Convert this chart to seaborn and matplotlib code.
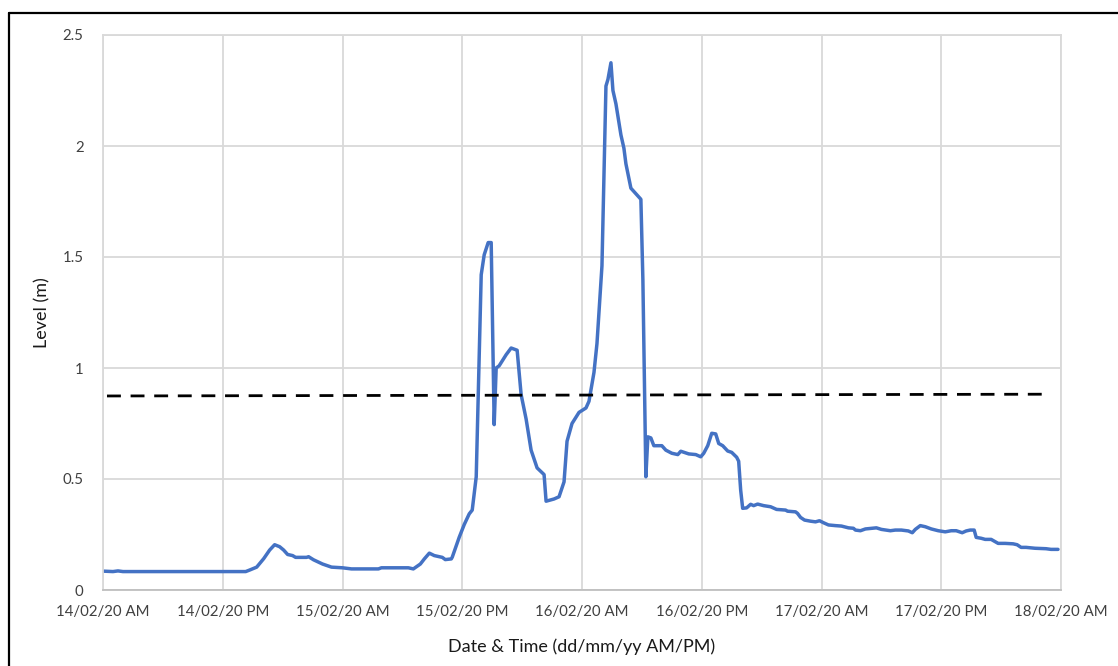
import numpy as np
import pandas as pd
import matplotlib
matplotlib.use("Agg")
import matplotlib.pyplot as plt
from matplotlib.lines import Line2D
import seaborn as sns

# hours since 14/02/20 00:00 and river level (m)
hours = [
    0.0, 1.0, 1.5, 2.0, 14.3, 14.7, 15.4, 16.1, 16.7, 17.2, 17.7, 18.1, 18.5,
    19.0, 19.3, 20.4, 20.6, 21.1, 22.0, 22.9, 24.0, 24.9, 27.6, 27.9, 30.6,
    31.1, 31.8, 32.2, 32.7, 33.2, 34.0, 34.3, 34.9, 35.0, 35.7, 36.2, 36.7,
    37.0, 37.4, 37.9, 38.2, 38.6, 38.9, 39.2, 39.4, 39.7, 40.4, 40.9, 41.5,
    41.9, 42.4, 42.9, 43.5, 44.2, 44.4, 45.2, 45.7, 46.2, 46.5, 47.0, 47.7,
    48.4, 48.7, 49.2, 49.5, 50.0, 50.4, 50.6, 50.9, 51.1, 51.4, 51.9, 52.2,
    52.4, 52.9, 53.5, 53.9, 54.1, 54.4, 54.6, 54.9, 55.2, 56.0, 56.4, 57.0,
    57.6, 57.9, 58.7, 59.4, 59.9, 60.2, 60.6, 61.0, 61.4, 61.7, 62.1, 62.6,
    63.0, 63.5, 63.7, 63.9, 64.1, 64.5, 64.9, 65.2, 65.6, 66.2, 66.9, 67.5,
    68.4, 68.6, 69.4, 69.6, 69.9, 70.3, 70.9, 71.4, 71.8, 72.2, 72.7, 73.4,
    74.0, 74.7, 75.2, 75.4, 75.9, 76.4, 77.0, 77.5, 78.0, 78.9, 79.4, 80.0,
    80.7, 81.1, 81.4, 81.9, 82.4, 83.0, 83.7, 84.4, 85.0, 85.5, 86.1, 86.5,
    86.9, 87.3, 87.5, 88.0, 88.4, 89.0, 89.7, 90.4, 91.2, 91.6, 92.0, 92.5,
    93.4, 94.5, 95.0, 95.7,
]
level = [
    0.085, 0.083, 0.086, 0.083, 0.083, 0.09, 0.103, 0.141, 0.18, 0.204, 0.195,
    0.18, 0.16, 0.155, 0.147, 0.147, 0.15, 0.136, 0.117, 0.103, 0.10, 0.095,
    0.095, 0.10, 0.10, 0.095, 0.117, 0.14, 0.166, 0.155, 0.147, 0.137, 0.14,
    0.148, 0.238, 0.295, 0.343, 0.36, 0.51, 1.42, 1.51, 1.565, 1.565, 0.745,
    1.0, 1.01, 1.06, 1.09, 1.08, 0.88, 0.77, 0.63, 0.55, 0.52, 0.40, 0.41,
    0.42, 0.487, 0.67, 0.75, 0.80, 0.82, 0.85, 0.98, 1.11, 1.46, 2.27, 2.30,
    2.375, 2.25, 2.19, 2.05, 1.99, 1.92, 1.81, 1.78, 1.76, 1.40, 0.51, 0.69,
    0.685, 0.65, 0.65, 0.63, 0.616, 0.61, 0.625, 0.613, 0.61, 0.60, 0.616,
    0.65, 0.706, 0.703, 0.66, 0.65, 0.626, 0.62, 0.598, 0.58, 0.45, 0.368,
    0.37, 0.386, 0.38, 0.387, 0.38, 0.375, 0.363, 0.36, 0.355, 0.352, 0.345,
    0.327, 0.315, 0.31, 0.307, 0.312, 0.303, 0.293, 0.29, 0.288, 0.28, 0.278,
    0.27, 0.267, 0.275, 0.278, 0.28, 0.273, 0.267, 0.27, 0.27, 0.266, 0.258,
    0.273, 0.29, 0.285, 0.275, 0.267, 0.262, 0.267, 0.267, 0.258, 0.266,
    0.27, 0.27, 0.237, 0.233, 0.228, 0.228, 0.21, 0.21, 0.208, 0.204, 0.192,
    0.192, 0.188, 0.186, 0.183, 0.183,
]

# dashed reference level
ref_hours = [0.4, 95.0]
ref_level = [0.874, 0.882]

tick_hours = [0, 12, 24, 36, 48, 60, 72, 84, 96]
tick_labels = [
    "14/02/20 AM", "14/02/20 PM", "15/02/20 AM", "15/02/20 PM",
    "16/02/20 AM", "16/02/20 PM", "17/02/20 AM", "17/02/20 PM",
    "18/02/20 AM",
]
y_ticks = [0, 0.5, 1, 1.5, 2, 2.5]
y_labels = ["0", "0.5", "1", "1.5", "2", "2.5"]

df = pd.DataFrame({"hours": hours, "level": level})
ref_df = pd.DataFrame({"hours": ref_hours, "level": ref_level})

sns.set_style("whitegrid")
plt.rcParams["font.family"] = ["Lato", "DejaVu Sans"]

fig = plt.figure(figsize=(11.18, 6.66), dpi=100)
ax = fig.add_axes([103 / 1118, 76 / 666, 958 / 1118, 555 / 666])

sns.lineplot(data=df, x="hours", y="level", ax=ax, color="#4472C4",
             linewidth=2.5, estimator=None)
sns.lineplot(data=ref_df, x="hours", y="level", ax=ax, color="black",
             linewidth=2.0, linestyle=(0, (5, 3.5)), estimator=None)

ax.set_xlim(0, 96)
ax.set_ylim(0, 2.5)
ax.set_xticks(tick_hours)
ax.set_xticklabels(tick_labels)
ax.set_yticks(y_ticks)
ax.set_yticklabels(y_labels)
ax.tick_params(axis="both", length=0, labelsize=10.8, labelcolor="#404040")
ax.tick_params(axis="x", pad=11)
ax.tick_params(axis="y", pad=14)

ax.grid(True, color="#d9d9d9", linewidth=1.3)
for side in ["top", "right", "left"]:
    ax.spines[side].set_color("#d9d9d9")
    ax.spines[side].set_linewidth(1.3)
ax.spines["bottom"].set_color("#bfbfbf")
ax.spines["bottom"].set_linewidth(1.3)

ax.set_xlabel("Date & Time (dd/mm/yy AM/PM)", fontsize=13, color="#1a1a1a")
ax.set_ylabel("Level (m)", fontsize=13, color="#1a1a1a")
ax.xaxis.label.set_va("center")
ax.yaxis.label.set_va("center")
ax.xaxis.set_label_coords(0.5, -0.103)
ax.yaxis.set_label_coords(-0.063, 0.5)

# chart-area border (only top and left edges are visible in the crop)
fig.add_artist(Line2D([9 / 1118, 1.0], [1 - 13 / 666, 1 - 13 / 666],
                      transform=fig.transFigure, color="black", linewidth=1.6))
fig.add_artist(Line2D([9 / 1118, 9 / 1118], [0.0, 1 - 13 / 666],
                      transform=fig.transFigure, color="black", linewidth=1.6))

fig.savefig("out.png", dpi=100)
